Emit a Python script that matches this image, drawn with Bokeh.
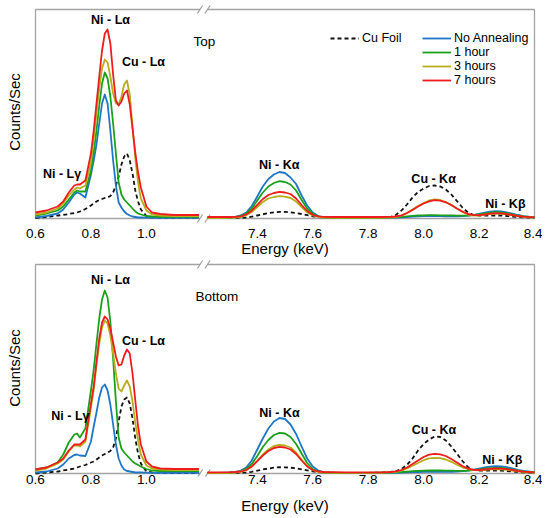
import numpy as np
from bokeh.plotting import figure
from bokeh.models import Range1d, FixedTicker, Legend, LegendItem
from bokeh.layouts import column
from bokeh.core.properties import value
from bokeh.embed import file_html
from bokeh.resources import INLINE

FONT = "Liberation Sans"
SHIFT = 6.0  # keV removed from the K-line segment of the broken energy axis

# ---------------- data ----------------
energy_L = [0.60, 0.64, 0.68, 0.70, 0.72, 0.74, 0.75, 0.76, 0.78, 0.80, 0.81, 0.82, 0.83,
            0.84, 0.85, 0.86, 0.87, 0.88, 0.89, 0.90, 0.91, 0.92, 0.93, 0.94, 0.95, 0.96,
            0.97, 0.98, 1.00, 1.02, 1.05, 1.10, 1.19]
energy_R = [7.22, 7.26, 7.30, 7.32, 7.34, 7.36, 7.38, 7.40, 7.42, 7.44, 7.46, 7.48, 7.50,
            7.52, 7.54, 7.56, 7.58, 7.60, 7.62, 7.64, 7.68, 7.72, 7.76, 7.80, 7.84, 7.88,
            7.90, 7.92, 7.94, 7.96, 7.98, 8.00, 8.02, 8.04, 8.06, 8.08, 8.10, 8.12, 8.14,
            8.16, 8.18, 8.20, 8.22, 8.24, 8.26, 8.28, 8.30, 8.32, 8.34, 8.36, 8.40]

# Top panel, L lines
top_foil_L = [0.5, 1.5, 3, 3.5, 4.5, 5.5, 6, 7, 9.5, 13, 15, 17, 18.5, 19.5, 20.5, 21, 22.5,
              26, 33, 42, 54, 62, 65, 58, 45, 28, 17, 9, 2.5, 1.2, 1, 0.8, 0.8]
top_none_L = [1, 2.5, 5, 9, 16, 24, 26, 25, 21, 44, 58, 74, 95, 115, 124, 115, 88, 58, 33,
              16, 11, 7, 4.5, 3, 2, 1.5, 1, 1, 0.8, 0.7, 0.7, 0.7, 0.7]
top_1h_L = [3, 5, 8, 12, 19, 26, 28, 27, 27, 48, 66, 88, 113, 135, 146, 140, 122, 95, 65,
            36, 24, 19, 16, 13, 10, 7, 5, 4, 2.5, 2, 1.7, 1.7, 1.7]
top_3h_L = [4, 6, 10, 15, 23, 29, 31, 30, 33, 56, 80, 105, 130, 150, 159, 156, 142, 125, 115,
            114, 122, 134, 138, 124, 92, 60, 36, 20, 8, 4, 3, 2.5, 2.5]
top_7h_L = [6, 8, 12, 17, 26, 33, 34, 34, 38, 65, 88, 115, 142, 168, 185, 189, 175, 144, 118,
            113, 117, 125, 128, 114, 90, 66, 46, 31, 12, 6, 4.5, 3.5, 3.5]

# Top panel, K lines
top_foil_R = [0.3, 0.4, 0.5, 0.6, 0.7, 1, 1.8, 3, 4.2, 5.3, 6.2, 6.7, 6.6, 6.2, 5.5, 4.5, 3.3,
              2.2, 1.5, 1, 0.6, 0.5, 0.5, 0.5, 0.5, 1.5, 3.5, 8, 14, 21, 26.5, 30, 32.5, 33,
              32, 29, 24, 17.5, 11, 6, 3.5, 3, 3, 3, 3, 3, 2.5, 2, 1.5, 1.2, 0.8]
top_none_R = [0.3, 0.5, 1, 1.7, 3, 6, 12.5, 22, 32, 39.5, 44, 46.5, 45.5, 41, 34.5, 23, 13, 6,
              2.5, 1, 0.6, 0.5, 0.5, 0.5, 0.5, 0.7, 0.9, 1.2, 1.5, 1.8, 2.1, 2.3, 2.4, 2.4,
              2.3, 2.2, 2.1, 2.1, 2.3, 2.8, 3.6, 4.7, 5.8, 6.8, 7.3, 7.1, 6.2, 4.9, 3.5, 2.4, 1.2]
top_1h_R = [0.5, 0.6, 0.8, 1.3, 2.5, 5, 10, 18, 26, 32, 35.5, 37.3, 36.5, 34, 28, 18.5, 10, 5,
            2, 1, 0.7, 0.6, 0.6, 0.6, 0.8, 1, 1.3, 1.7, 2.2, 2.7, 3, 3.2, 3.3, 3.3, 3.2, 3.1,
            3, 2.9, 2.9, 3, 3.4, 4.2, 5, 5.9, 6.3, 6.1, 5.3, 4.2, 3, 2.1, 1.1]
top_3h_R = [0.4, 0.5, 0.6, 1, 1.5, 3.2, 6.5, 11.5, 16.5, 20, 21.5, 22.3, 21.8, 20.5, 17, 11.5,
            6, 3, 1.5, 1, 0.7, 0.6, 0.6, 0.6, 0.6, 0.8, 1.3, 2.8, 5.5, 9, 12.5, 15.5, 18, 19,
            18.5, 16.5, 13.5, 10, 6.5, 4, 3, 3, 3.8, 4.5, 5, 4.9, 4.2, 3.3, 2.3, 1.6, 0.9]
top_7h_R = [1.5, 1.5, 1.5, 1.7, 2.2, 4, 7.8, 13.7, 19.5, 23.5, 25.5, 26.7, 26, 24.5, 20, 13.5,
            7.5, 3.7, 2.2, 1.7, 1.5, 1.5, 1.5, 1.5, 1.5, 1.6, 2, 3.2, 5.5, 8.5, 12, 15, 17.2,
            18.3, 17.8, 16.2, 13.5, 10, 7, 4.5, 3.3, 3.3, 4, 4.8, 5.3, 5.2, 4.5, 3.5, 2.5, 1.8, 1.2]

# Bottom panel, L lines
bot_foil_L = [0, 1, 2, 3, 4, 5, 6, 7, 8.5, 11, 12, 14, 16, 18, 19.5, 21, 22.5, 26, 35, 52, 67,
              74, 76, 70, 55, 35, 20, 10, 2, 1, 0.8, 0.5, 0.5]
bot_none_L = [1, 2, 5, 9, 15, 18.5, 19, 18, 17.5, 32, 47, 61, 76, 86, 89, 83, 69, 49, 29, 15,
              8, 4, 2.5, 2, 1.5, 1, 1, 1, 0.8, 0.7, 0.7, 0.7, 0.7]
bot_1h_L = [4, 6, 11, 19, 31, 39, 40, 36, 45, 83, 104, 130, 155, 174, 183, 176, 152, 115, 72,
            36, 25, 21, 18, 15, 12, 10, 8.5, 7, 4.5, 3, 2.5, 2.5, 2.5]
bot_3h_L = [3, 5, 10, 14, 22, 28, 28, 27, 32, 66, 84, 108, 130, 146, 153, 150, 138, 120, 100,
            85, 82, 88, 93, 87, 72, 51, 33, 19, 8, 5, 4, 3.5, 3.5]
bot_7h_L = [4, 6, 11, 15, 23, 29, 29, 29, 34, 70, 87, 112, 135, 151, 157, 154, 145, 131, 117,
            108, 109, 118, 124, 120, 100, 73, 47, 29, 12, 7, 5, 4.5, 4.5]

# Bottom panel, K lines
bot_foil_R = [0.3, 0.4, 0.5, 0.6, 0.7, 1, 1.7, 2.8, 4, 5, 5.8, 6.3, 6.2, 5.8, 5.2, 4.2, 3.1,
              2.1, 1.4, 1, 0.7, 0.6, 0.6, 0.7, 0.8, 1.5, 2.2, 4.5, 8.5, 15, 23, 29.5, 34, 37,
              36.5, 33, 27, 20, 12.5, 6.5, 3.5, 3, 3, 3, 3, 2.8, 2.5, 2, 1.5, 1.2, 0.8]
bot_none_R = [0.3, 0.5, 1, 1.5, 2.7, 6, 13, 24, 35, 45, 52, 55.5, 54.5, 49, 39.5, 27, 15, 7,
              3, 1.2, 0.6, 0.5, 0.5, 0.5, 0.5, 0.6, 0.7, 0.9, 1.1, 1.3, 1.5, 1.6, 1.7, 1.7,
              1.7, 1.7, 1.7, 1.9, 2.3, 2.9, 3.8, 4.9, 6, 6.9, 7.3, 7.1, 6.3, 5, 3.7, 2.6, 1.3]
bot_1h_R = [0.5, 0.6, 0.8, 1.2, 2.2, 4.5, 9.5, 17.5, 26.5, 33.5, 38.5, 40.7, 40, 36.5, 29.5,
            20, 10.5, 4.5, 2, 1, 0.7, 0.6, 0.6, 0.6, 0.8, 1, 1.2, 1.5, 1.9, 2.3, 2.6, 2.9, 3,
            3, 3, 2.9, 2.8, 2.7, 2.7, 2.9, 3.3, 4, 4.8, 5.4, 5.7, 5.5, 4.8, 3.9, 2.9, 2, 1.1]
bot_3h_R = [0.4, 0.5, 0.6, 1, 1.6, 3.3, 7, 12.5, 19, 24, 27.5, 28.7, 28, 26, 21, 14, 7.5, 3.3,
            1.5, 1, 0.7, 0.6, 0.6, 0.6, 0.7, 1.1, 1.7, 2.9, 5, 7.8, 10.5, 13.3, 15.1, 15.7,
            15.3, 14, 11.7, 8.8, 6.2, 4.3, 3.3, 3.2, 3.6, 4.1, 4.3, 4.2, 3.7, 3, 2.2, 1.6, 0.9]
bot_7h_R = [1.2, 1.2, 1.3, 1.5, 2, 3.5, 7, 12.3, 18, 22.5, 25.5, 26.7, 26, 24, 19.5, 13, 7,
            3.5, 2, 1.5, 1.3, 1.2, 1.2, 1.2, 1.2, 1.5, 2.1, 3.5, 6, 9.5, 13, 16.5, 18.8, 19.7,
            19.2, 17.5, 14.5, 11, 7.5, 5, 3.7, 3.5, 4, 4.6, 5, 4.9, 4.3, 3.5, 2.5, 1.8, 1]

series_names = ["Cu Foil", "No Annealing", "1 hour", "3 hours", "7 hours"]
series_colors = ["#111111", "#1f76c6", "#1ba01b", "#b8ad1c", "#ee1c1c"]
series_dash = ["4 3", "solid", "solid", "solid", "solid"]

tick_energies = [0.6, 0.8, 1.0, 7.4, 7.6, 7.8, 8.0, 8.2, 8.4]
tick_labels = ["0.6", "0.8", "1.0", "7.4", "7.6", "7.8", "8.0", "8.2", "8.4"]

peak_labels = ["Ni - L\u03b3", "Ni - L\u03b1", "Cu - L\u03b1", "Ni - K\u03b1", "Cu - K\u03b1", "Ni - K\u03b2"]
top_label_E = [0.696, 0.8705, 0.9896, 7.479, 8.036, 8.295]
top_label_h = [45, 199, 156.5, 54, 40, 15]
bot_label_E = [0.726, 0.8705, 0.9896, 7.480, 8.037, 8.284]
bot_label_h = [58, 194, 133, 60.5, 44, 13.3]

# ---------------- geometry of the broken axis ----------------
PX = 277.22                      # pixels per keV
X_LEFT, X_RIGHT = 0.6, 8.4 - SHIFT
X0, X1 = X_LEFT - 5 / PX, X_RIGHT + 5 / PX
GAP_A, GAP_B = 1.1934, 1.2204    # where the box line is interrupted
BOX_TOP = 209
BOX_COLOR = "#a3a3a3"


def disp(e):
    return round(e - SHIFT, 6) if e > 5 else round(e, 6)


tick_pos = [disp(e) for e in tick_energies]


def make_panel(L, R, lab_E, lab_h, name, name_E, name_h, y_lo, y_hi, frame_h,
               min_bb, tick_standoff, xlabel_standoff, legend):
    p = figure(frame_width=509, frame_height=frame_h,
               x_range=Range1d(X0, X1), y_range=Range1d(y_lo, y_hi),
               output_backend="svg", toolbar_location=None,
               min_border_left=30, min_border_right=3, min_border_top=0,
               min_border_bottom=min_bb)
    p.outline_line_color = None
    p.xgrid.visible = False
    p.ygrid.visible = False

    xa = p.xaxis[0]
    xa.ticker = FixedTicker(ticks=tick_pos)
    xa.major_label_overrides = {t: s for t, s in zip(tick_pos, tick_labels)}
    xa.axis_line_color = None
    xa.major_tick_line_color = None
    xa.minor_tick_line_color = None
    xa.major_tick_in = 0
    xa.major_tick_out = 0
    xa.major_label_standoff = tick_standoff
    xa.major_label_text_font = FONT
    xa.major_label_text_font_size = "13.5px"
    xa.major_label_text_color = "#000000"
    xa.axis_label = "Energy (keV)"
    xa.axis_label_text_font = FONT
    xa.axis_label_text_font_size = "15px"
    xa.axis_label_text_font_style = "normal"
    xa.axis_label_text_color = "#000000"
    xa.axis_label_standoff = xlabel_standoff

    ya = p.yaxis[0]
    ya.ticker = FixedTicker(ticks=[])
    ya.axis_line_color = None
    ya.major_tick_line_color = None
    ya.minor_tick_line_color = None
    ya.axis_label = "Counts/Sec"
    ya.axis_label_text_font = FONT
    ya.axis_label_text_font_size = "15px"
    ya.axis_label_text_font_style = "normal"
    ya.axis_label_text_color = "#000000"
    ya.axis_label_standoff = 8

    # frame box with the axis break
    p.line([GAP_A, X_LEFT, X_LEFT, GAP_A], [0, 0, BOX_TOP, BOX_TOP],
           line_color=BOX_COLOR, line_width=1.3)
    p.line([GAP_B, X_RIGHT, X_RIGHT, GAP_B], [0, 0, BOX_TOP, BOX_TOP],
           line_color=BOX_COLOR, line_width=1.3)
    dx = 2.6 / PX
    cx = [GAP_A, GAP_B, GAP_A, GAP_B]
    cy = [0, 0, BOX_TOP, BOX_TOP]
    p.segment(x0=[c - dx for c in cx], y0=[c - 4 for c in cy],
              x1=[c + dx for c in cx], y1=[c + 4 for c in cy],
              line_color="#9a9a9a", line_width=1.1)

    xL = [disp(e) for e in energy_L]
    xR = [disp(e) for e in energy_R]
    rends = []
    for i in range(5):
        r = p.line(xL, L[i], line_color=series_colors[i], line_width=1.8,
                   line_dash=series_dash[i], line_join="round")
        p.line(xR, R[i], line_color=series_colors[i], line_width=1.8,
               line_dash=series_dash[i], line_join="round")
        rends.append(r)

    p.text(x=[disp(e) for e in lab_E], y=lab_h, text=peak_labels,
           text_font=value(FONT), text_font_style="bold", text_font_size="12.5px",
           text_align="center", text_baseline="middle", text_color="#000000")
    p.text(x=[name_E], y=[name_h], text=[name], text_font=value(FONT),
           text_font_size="13.5px", text_align="left", text_baseline="middle",
           text_color="#000000")

    if legend:
        lg1 = Legend(items=[LegendItem(label=series_names[0], renderers=[rends[0]])],
                     location=(300, 178))
        lg2 = Legend(items=[LegendItem(label=series_names[i], renderers=[rends[i]])
                            for i in range(1, 5)], location=(392, 136))
        for lg in (lg1, lg2):
            lg.padding = 0
            lg.margin = 0
            lg.spacing = 0
            lg.border_line_color = None
            lg.background_fill_alpha = 0
            lg.glyph_width = 29
            lg.glyph_height = 14
            lg.label_height = 14
            lg.label_standoff = 3
            lg.label_text_font = FONT
            lg.label_text_font_size = "12.5px"
            lg.label_text_color = "#000000"
            p.add_layout(lg)
    return p


top_L = [top_foil_L, top_none_L, top_1h_L, top_3h_L, top_7h_L]
top_R = [top_foil_R, top_none_R, top_1h_R, top_3h_R, top_7h_R]
bot_L = [bot_foil_L, bot_none_L, bot_1h_L, bot_3h_L, bot_7h_L]
bot_R = [bot_foil_R, bot_none_R, bot_1h_R, bot_3h_R, bot_7h_R]

p_top = make_panel(top_L, top_R, top_label_E, top_label_h, "Top", 1.170, 177.3,
                   -5, 218, 223, 35, 5, -1, True)
p_bot = make_panel(bot_L, bot_R, bot_label_E, bot_label_h, "Bottom", 1.177, 177,
                   -3, 214, 217, 42, -2, 10, False)

layout = column(p_top, p_bot, spacing=0)
open("out.html", "w").write(file_html(layout, INLINE))
